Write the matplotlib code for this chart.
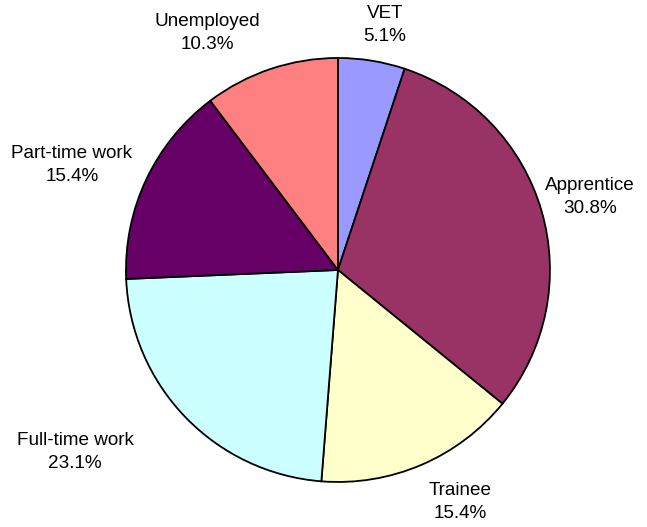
import matplotlib.pyplot as plt
import numpy

plt.rcParams['font.family'] = ['Liberation Sans', 'DejaVu Sans']

categories = ["VET", "Apprentice", "Trainee", "Full-time work", "Part-time work", "Unemployed"]
shares = [5.1, 30.8, 15.4, 23.1, 15.4, 10.3]
colours = ["#9999FF", "#993366", "#FFFFCC", "#CCFFFF", "#660066", "#FF8080"]

# label placement: (distance from centre in radii, angle in degrees)
label_pos = [(1.177, 79.1), (1.238, 16.1), (1.236, -62.3),
             (1.509, -145.3), (1.349, 158.5), (1.277, 118.9)]

fig = plt.figure(figsize=(6.47, 5.27), dpi=100)
ax = fig.add_axes([0.1947, 0.0854, 0.6553, 0.8046])

ax.pie(shares, colors=colours, startangle=90, counterclock=False,
       wedgeprops=dict(edgecolor="black", linewidth=1.3))

for name, p, (d, a) in zip(categories, shares, label_pos):
    x = d * numpy.cos(numpy.radians(a))
    y = d * numpy.sin(numpy.radians(a))
    ax.text(x, y, "%s\n%.1f%%" % (name, p), ha="center", va="center",
            fontsize=13.6, linespacing=1.5)

ax.set_xlim(-1.0, 1.0)
ax.set_ylim(-1.0, 1.0)
ax.set_aspect("equal")
ax.axis("off")

fig.savefig("out.png", dpi=100)
